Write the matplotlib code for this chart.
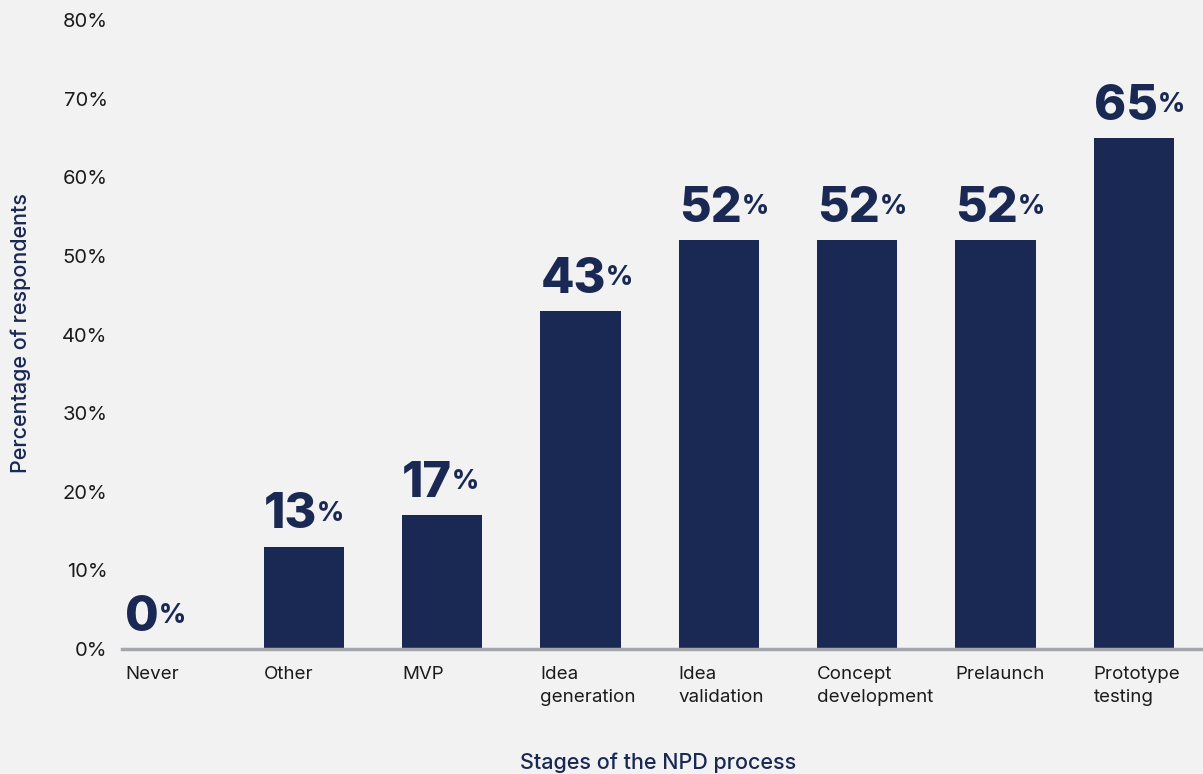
import numpy as np
import matplotlib.pyplot as plt

# Stages of the NPD process and share of respondents (%)
STAGES = [
    "Never", "Other", "MVP", "Idea\ngeneration", "Idea\nvalidation",
    "Concept\ndevelopment", "Prelaunch", "Prototype\ntesting"
]
SHARES = [0, 13, 17, 43, 52, 52, 52, 65]
Y_TICKS = [0, 10, 20, 30, 40, 50, 60, 70, 80]

NAVY = "#1a2954"
BG = "#f2f2f2"
TEXT = "#1c1c1c"
BAR_WIDTH = 0.58

plt.rcParams["font.family"] = ["Inter", "DejaVu Sans"]

fig = plt.figure(figsize=(12.03, 7.74), dpi=100, facecolor=BG)
ax = fig.add_axes([0.101, 0.1615, 0.899, 0.8125], facecolor=BG)

x = np.arange(len(STAGES))
ax.bar(x, SHARES, width=BAR_WIDTH, color=NAVY, zorder=2)

ax.set_xlim(-0.318, 7.5)
ax.set_ylim(0, 80)

# value labels: heavy number, with a small raised percent sign
for xi, val in zip(x, SHARES):
    num = ax.annotate(
        f"{val}", xy=(xi - BAR_WIDTH / 2, val), xytext=(0, 6),
        textcoords="offset points", ha="left", va="bottom",
        fontsize=35, fontweight="heavy", color=NAVY
    )
    ax.annotate(
        "%", xy=(1, 1), xycoords=num, xytext=(0, -6),
        textcoords="offset points", ha="left", va="top",
        fontsize=19, fontweight="heavy", color=NAVY
    )

ax.set_yticks(Y_TICKS)
ax.set_yticklabels([f"{t}%" for t in Y_TICKS], fontsize=14.5, color=TEXT)
ax.tick_params(axis="y", length=0, pad=10)

ax.set_xticks(x - BAR_WIDTH / 2)
ax.set_xticklabels(STAGES, fontsize=13.5, color=TEXT, ha="left",
                   linespacing=1.5)
ax.tick_params(axis="x", length=0, pad=12)

for side in ["top", "right", "left"]:
    ax.spines[side].set_visible(False)
ax.spines["bottom"].set_color("#a3a6ab")
ax.spines["bottom"].set_linewidth(2.5)

fig.text(0.0175, 0.57, "Percentage of respondents", rotation=90,
         ha="center", va="center", fontsize=15.5, color=NAVY,
         fontweight="medium")
fig.text(0.547, 0.015, "Stages of the NPD process", ha="center",
         va="center", fontsize=15.5, color=NAVY, fontweight="medium")

fig.savefig("out.png", dpi=100, facecolor=BG)
